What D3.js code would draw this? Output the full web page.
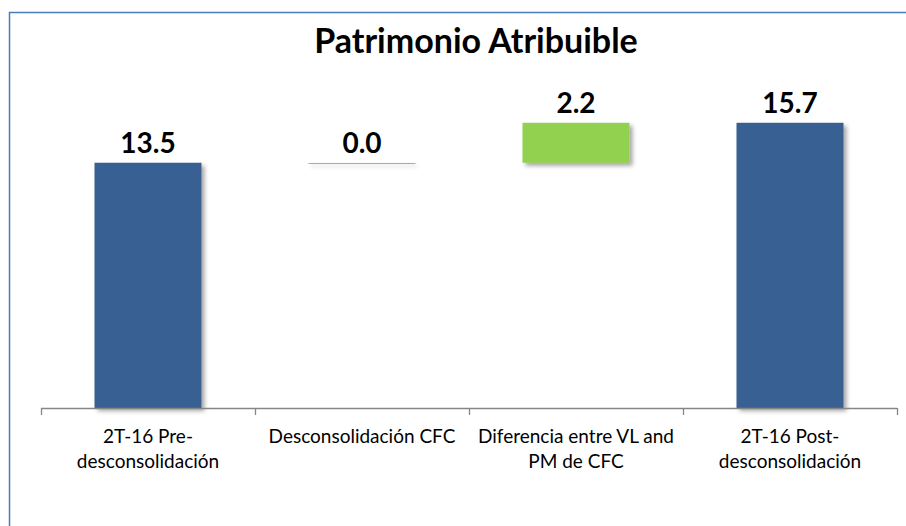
<!DOCTYPE html>
<html><head><meta charset="utf-8">
<script src="https://cdn.jsdelivr.net/npm/d3@7"></script>
<style>html,body{margin:0;padding:0;background:#fff;}svg{display:block;}</style>
</head><body>
<svg id="chart" width="906" height="526"></svg>
<script>
const title = "Patrimonio Atribuible";
const categories = ["2T-16 Pre-desconsolidación", "Desconsolidación CFC", "Diferencia entre VL and PM de CFC", "2T-16 Post-desconsolidación"];
const baseValues = [0, 13.5, 13.5, 0];
const deltaValues = [13.5, 0.0, 2.2, 15.7];
const barKinds = ["total", "change", "change", "total"];
const yDomain = [0, 18];

const W = 906, H = 526;
const svg = d3.select("#chart");
const defs = svg.append("defs");
const f = defs.append("filter").attr("id","sh").attr("filterUnits","userSpaceOnUse")
  .attr("x",0).attr("y",0).attr("width",W).attr("height",H);
f.append("feDropShadow").attr("dx",3).attr("dy",3).attr("stdDeviation",2.2).attr("flood-color","#000").attr("flood-opacity",0.35);
const f2 = defs.append("filter").attr("id","sh2").attr("filterUnits","userSpaceOnUse")
  .attr("x",0).attr("y",0).attr("width",W).attr("height",H);
f2.append("feGaussianBlur").attr("stdDeviation",2);

svg.append("rect").attr("x",0).attr("y",0).attr("width",W).attr("height",H).attr("fill","#fff");
svg.append("rect").attr("x",9.5).attr("y",12.5).attr("width",W+20).attr("height",H+20)
  .attr("fill","none").attr("stroke","#4a7ebb").attr("stroke-width",1.5);

const plot = {left:41, right:897, top:81, bottom:408};
const x = d3.scaleBand().domain(categories).range([plot.left, plot.right]).paddingInner(0.5).paddingOuter(0.25);
const y = d3.scaleLinear().domain(yDomain).range([plot.bottom, plot.top]);

svg.append("text").attr("x",476).attr("y",53).attr("text-anchor","middle")
  .attr("font-family","Lato, 'Open Sans', sans-serif").attr("font-weight","bold").attr("font-size",34)
  .attr("fill","#000").text(title);

const data = categories.map((c,i)=>({c, base:baseValues[i], v:deltaValues[i], kind:barKinds[i]}));

const bars = svg.append("g");
data.forEach(d=>{
  const x0 = x(d.c), bw = x.bandwidth();
  if (d.v === 0) {
    const yy = Math.round(y(d.base));
    bars.append("rect").attr("x",x0+2).attr("y",yy+2).attr("width",bw).attr("height",2)
      .attr("fill","#000").attr("opacity",0.12).attr("filter","url(#sh2)");
    bars.append("rect").attr("x",x0).attr("y",yy).attr("width",bw).attr("height",1)
      .attr("fill","#d99694");
  } else {
    const top = y(d.base + d.v), bot = y(d.base);
    bars.append("rect").attr("x",x0).attr("y",top).attr("width",bw).attr("height",bot-top)
      .attr("fill", d.kind==="total" ? "#376092" : "#92d050").attr("filter","url(#sh)");
  }
});

// axis
const ax = svg.append("g");
ax.append("line").attr("x1",plot.left).attr("x2",plot.right).attr("y1",plot.bottom+0.5).attr("y2",plot.bottom+0.5)
  .attr("stroke","#868686").attr("stroke-width",1.3);
const step = x.step();
const tickXs = d3.range(categories.length+1).map(i=> plot.left + i*step);
tickXs.forEach(tx=>{
  ax.append("line").attr("x1",Math.round(tx)+0.5).attr("x2",Math.round(tx)+0.5).attr("y1",plot.bottom).attr("y2",plot.bottom+7)
    .attr("stroke","#868686").attr("stroke-width",1.3);
});

// category labels with wrapping
const catFont = "Lato, 'Open Sans', sans-serif";
const catSize = 19;
const meas = svg.append("text").attr("font-family",catFont).attr("font-size",catSize).attr("visibility","hidden");
function textW(s){ meas.text(s); return meas.node().getComputedTextLength(); }
function wrap(s, maxW){
  const parts = s.split(" ").flatMap((w,wi,arr)=>{
    const sub = w.split(/(?<=-)/);
    return sub.map((p,pi)=> ({p, sp: (pi===sub.length-1 && wi<arr.length-1)}));
  });
  const lines=[]; let line="";
  parts.forEach(({p,sp})=>{
    const cand = line + p;
    if (line && textW(cand.trim()) > maxW) { lines.push(line.trim()); line = p + (sp?" ":""); }
    else line = cand + (sp?" ":"");
  });
  if (line.trim()) lines.push(line.trim());
  return lines;
}
data.forEach(d=>{
  const cx = x(d.c) + x.bandwidth()/2;
  const lines = wrap(d.c, step - 8);
  const t = svg.append("text").attr("text-anchor","middle").attr("font-family",catFont).attr("font-size",catSize).attr("fill","#000");
  lines.forEach((ln,i)=> t.append("tspan").attr("x",cx).attr("y",443 + i*25).text(ln));
});
meas.remove();

// value labels
data.forEach(d=>{
  const cx = x(d.c) + x.bandwidth()/2;
  svg.append("text").attr("x",cx).attr("y", y(d.base + d.v) - 10).attr("text-anchor","middle")
    .attr("font-family","Lato, 'Open Sans', sans-serif").attr("font-weight","bold").attr("font-size",28).attr("fill","#000")
    .text(d3.format(".1f")(d.v));
});
</script>
</body></html>
